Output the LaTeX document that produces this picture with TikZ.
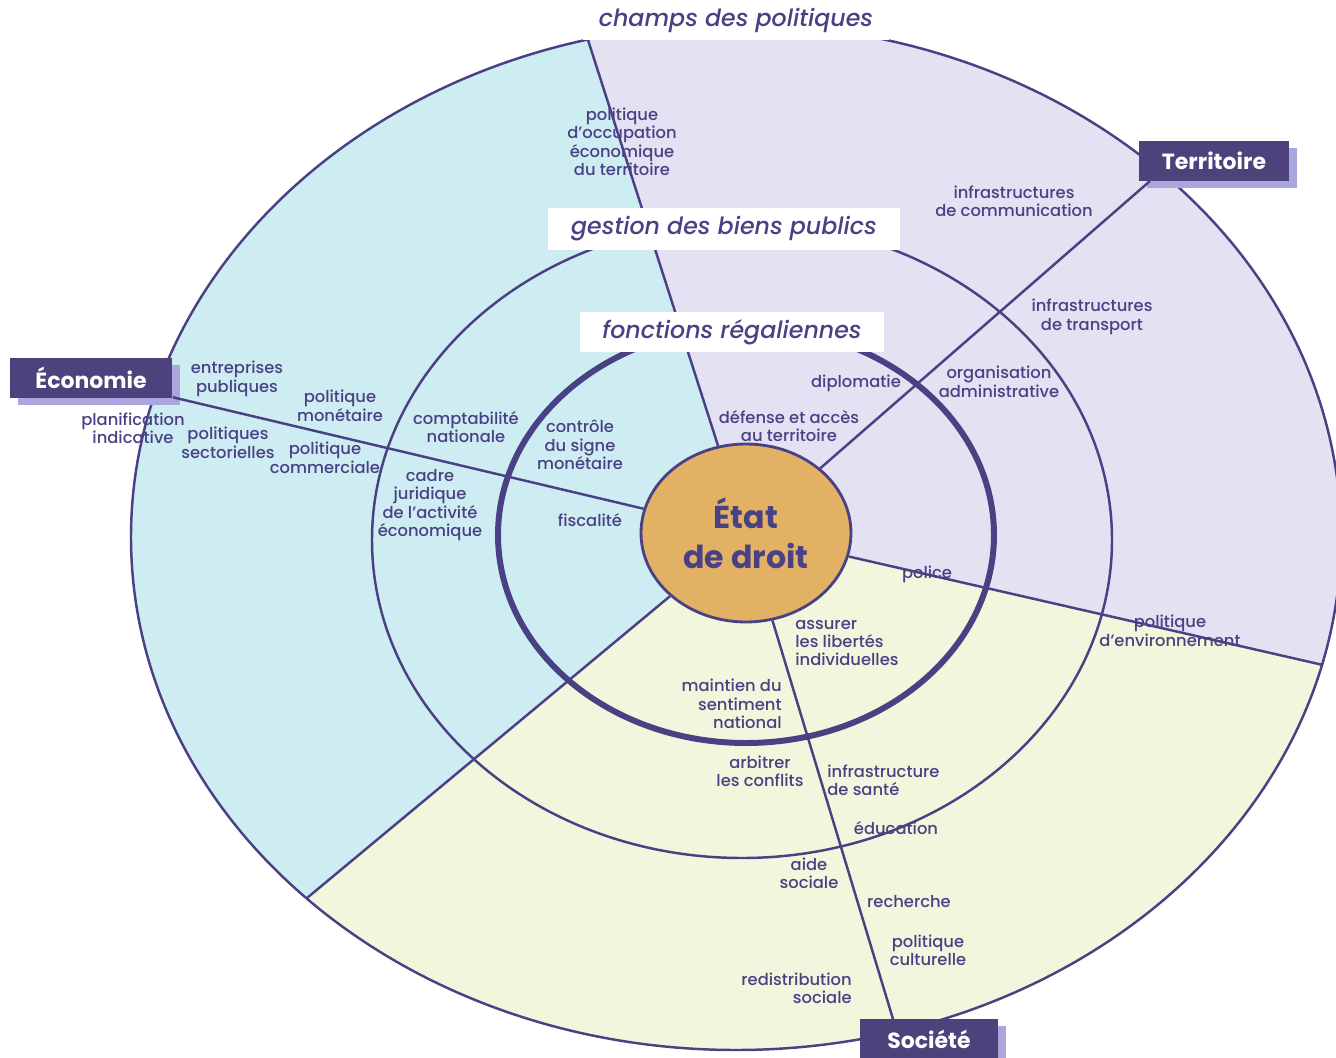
\documentclass[tikz,border=0pt]{standalone}
\usepackage{fontspec}
\setmainfont{Poppins}[UprightFont=* Medium, ItalicFont=* Medium Italic, BoldFont=* Bold]
\usetikzlibrary{shapes.geometric,shadows}

\definecolor{ink}{RGB}{74,64,132}
\definecolor{econbg}{RGB}{206,237,242}
\definecolor{terrbg}{RGB}{228,225,243}
\definecolor{socbg}{RGB}{241,246,221}
\definecolor{core}{RGB}{226,177,100}
\definecolor{boxbg}{RGB}{78,66,124}
\definecolor{boxshade}{RGB}{170,166,222}

\begin{document}
\begin{tikzpicture}[x=0.02cm, y=-0.02cm,
  ring/.style={draw=ink, line width=1.4pt},
  ray/.style={draw=ink, line width=1.4pt},
  lbl/.style={text=ink, align=center, inner sep=0pt, font=\fontsize{9.3}{10.5}\selectfont},
  ringtitle/.style={fill=white, text=ink, inner sep=0pt, font=\fontsize{13.5}{16}\selectfont\itshape},
  pole/.style={fill=boxbg, text=white, inner sep=0pt, minimum height=0.8cm,
    font=\fontsize{12.5}{14}\selectfont\bfseries,
    drop shadow={shadow xshift=0.16cm, shadow yshift=-0.14cm, fill=boxshade, opacity=1}}]

 \useasboundingbox (0,0) rectangle (1336,1058);
 \fill[white] (0,0) rectangle (1336,1058);

% three sectors, cut to the outer ring
 \begin{scope}
  \clip (736,537) ellipse [x radius=605, y radius=513];
  \fill[econbg] (746,533) -- (527,-150) -- (-100,-150) -- (-100,1235) -- cycle;
  \fill[terrbg] (746,533) -- (527,-150) -- (1500,-150) -- (1500,705) -- cycle;
  \fill[socbg] (746,533) -- (1500,705) -- (1500,1300) -- (-100,1300) -- (-100,1235) -- cycle;
 \end{scope}

% rings
 \draw[ring] (736,537) ellipse [x radius=605, y radius=513]; % champs des politiques
 \draw[ring] (742,540) ellipse [x radius=370, y radius=318]; % gestion des biens publics
 \draw[ring, line width=3.4pt] (746,535) ellipse [x radius=248, y radius=208]; % fonctions regaliennes

 \node[ellipse, draw=ink, line width=1.6pt, fill=core, minimum width=4.2cm, minimum height=3.56cm,
   inner sep=0pt, text=ink, align=center, font=\fontsize{18}{22.7}\selectfont\bfseries] (etat) at (746,533) {État\\de droit};

% the three poles
 \node[pole, minimum width=3.26cm] (eco) at (91,378) {Économie};
 \node[pole, minimum width=3.0cm] (terr) at (1214,161) {Territoire};
 \node[pole, minimum width=2.76cm] (soc) at (929,1039) {Société};

% free ends of the borders
 \coordinate (topend) at (588,40);
 \coordinate (rightend) at (1323,665);
 \coordinate (leftend) at (307,898);
 \coordinate (terrfoot) at (1150,181);
 \coordinate (socfoot) at (893,1019);

 \draw[ray] (etat) -- (topend);
 \draw[ray] (etat) -- (rightend);
 \draw[ray] (etat) -- (leftend);
 \draw[ray] (etat) -- (eco);
 \draw[ray] (etat) -- (terrfoot);
 \draw[ray] (etat) -- (socfoot);

% economie
 \node[lbl] (occup) at (622,142) {politique\\d'occupation\\économique\\du territoire};
 \node[lbl] (entpub) at (237,379) {entreprises\\publiques};
 \node[lbl] (polmon) at (340,406) {politique\\monétaire};
 \node[lbl] (planif) at (133,428) {planification\\indicative};
 \node[lbl] (polsec) at (228,443) {politiques\\sectorielles};
 \node[lbl] (polcom) at (325,458) {politique\\commerciale};
 \node[lbl] (compta) at (466,427) {comptabilité\\nationale};
 \node[lbl] (controle) at (580,445) {contrôle\\du signe\\monétaire};
 \node[lbl] (cadre) at (430,505) {cadre\\juridique\\de l'activité\\économique};
 \node[lbl] (fisc) at (590,520) {fiscalité};

% territoire
 \node[lbl] (infcom) at (1014,201) {infrastructures\\de communication};
 \node[lbl] (inftra) at (1092,317) {infrastructures\\de transport};
 \node[lbl] (orgadm) at (999,382) {organisation\\administrative};
 \node[lbl] (diplo) at (856,383) {diplomatie};
 \node[lbl] (defense) at (789,426) {défense et accès\\au territoire};
 \node[lbl] (police) at (927,574) {police};
 \node[lbl] (polenv) at (1170,631) {politique\\d'environnement};

% societe
 \node[lbl, align=left, anchor=west] (libertes) at (795,643) {assurer\\les libertés\\individuelles};
 \node[lbl, align=right, anchor=east] (maintien) at (782,704) {maintien du\\sentiment\\national};
 \node[lbl] (arbitrer) at (760,771) {arbitrer\\les conflits};
 \node[lbl, align=left, anchor=west] (sante) at (827,780) {infrastructure\\de santé};
 \node[lbl] (educ) at (896,828) {éducation};
 \node[lbl] (aide) at (809,873) {aide\\sociale};
 \node[lbl] (recherche) at (909,902) {recherche};
 \node[lbl] (polcul) at (928,950) {politique\\culturelle};
 \node[lbl, align=right, anchor=east] (redistrib) at (852,988) {redistribution\\sociale};

% ring titles
 \node[ringtitle, minimum width=6.14cm, minimum height=0.82cm] (champs) at (736,20) {champs des politiques};
 \node[ringtitle, minimum width=7.04cm, minimum height=0.84cm] (gestion) at (724,229) {gestion des biens publics};
 \node[ringtitle, minimum width=6.1cm, minimum height=0.8cm] (regal) at (732,332) {fonctions régaliennes};

\end{tikzpicture}
\end{document}
